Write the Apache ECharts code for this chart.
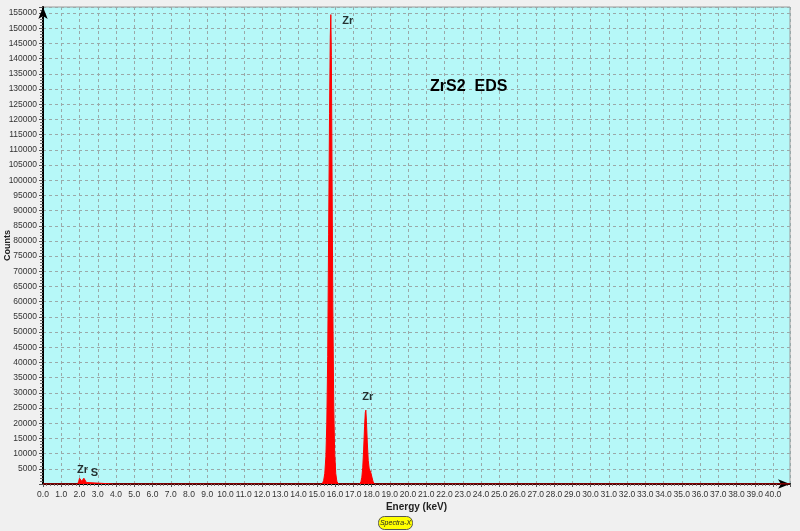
<!DOCTYPE html>
<html>
<head>
<meta charset="utf-8">
<script src="https://cdn.jsdelivr.net/npm/echarts@6/dist/echarts.min.js"></script>
<style>
html,body{margin:0;padding:0;background:#f0f0f0;}
#c{width:800px;height:531px;}
</style>
</head>
<body>
<div id="c"></div>
<script>
// Spectrum (keV, counts)
var energy = [0.0, 1.90, 1.96, 2.00, 2.04, 2.08, 2.12, 2.16, 2.20, 2.24, 2.28, 2.32, 2.38, 2.46,
  3.86, 3.90, 3.94,
  15.30, 15.38, 15.44, 15.50, 15.55, 15.60, 15.65, 15.70, 15.74, 15.77, 15.80, 15.84, 15.88, 15.93, 15.98, 16.04, 16.10, 16.18,
  17.35, 17.42, 17.47, 17.52, 17.57, 17.62, 17.66, 17.69, 17.72, 17.77, 17.82, 17.87, 17.92, 17.97, 18.02, 18.08, 18.15,
  40.93];
var counts = [0, 0, 900, 1900, 2100, 1500, 900, 800, 1300, 1900, 2000, 1400, 500, 0,
  0, 300, 0,
  0, 1200, 3500, 9000, 20000, 42000, 82000, 122000, 147000, 154500, 141000, 100000, 58000, 26000, 10500, 3500, 900, 0,
  0, 700, 2200, 5500, 11500, 19000, 23500, 24300, 21000, 13500, 7800, 5200, 4400, 3600, 2300, 900, 0,
  0];

// Peak annotations (keV, counts)
var labelNames = ['Zr', 'Zr', 'Zr', 'S'];
var labelX = [16.7, 17.8, 2.16, 2.82];
var labelY = [152500, 28500, 4700, 3600];

var xMin = 0, xMax = 40.93, xInterval = 1;
var yMin = 0, yMax = 157000, yInterval = 5000;

var spectrum = energy.map(function (e, i) { return [e, counts[i]]; });
var labels = labelNames.map(function (n, i) { return { name: n, value: [labelX[i], labelY[i]] }; });

var chart = echarts.init(document.getElementById('c'), null, { renderer: 'canvas' });
var tickFont = "'Liberation Sans Narrow', 'Liberation Sans', Arial, sans-serif";
chart.setOption({
  backgroundColor: '#f0f0f0',
  animation: false,
  title: {
    text: 'ZrS2  EDS',
    left: 425, top: 74,
    textStyle: { fontFamily: "'Liberation Sans', Arial, sans-serif", fontWeight: 'bold', fontSize: 16, color: '#000' }
  },
  grid: {
    left: 43, right: 10, top: 7, bottom: 47, containLabel: false, outerBoundsMode: 'none',
    show: true, backgroundColor: '#b6f8f8', borderColor: '#9a9a9a', borderWidth: 1
  },
  xAxis: {
    type: 'value', min: xMin, max: xMax, interval: xInterval,
    name: 'Energy (keV)', nameLocation: 'middle', nameGap: 18, nameMoveOverlap: false,
    nameTextStyle: { fontFamily: "'Liberation Sans', Arial, sans-serif", fontWeight: 'bold', fontSize: 10, color: '#222' },
    axisLine: { show: true, lineStyle: { color: '#000', width: 2 }, symbol: ['none', 'arrow'], symbolSize: [7, 12] },
    axisTick: { show: true, length: 3, lineStyle: { color: '#555' } },
    minorTick: { show: true, splitNumber: 5, length: 2, lineStyle: { color: '#777' } },
    axisLabel: {
      fontFamily: tickFont, fontSize: 8.5, color: '#333', margin: 6, showMaxLabel: false, hideOverlap: false,
      formatter: function (v) { return v.toFixed(1); }
    },
    splitLine: { show: true, lineStyle: { color: '#9aa9a9', type: [3, 3], width: 1 } }
  },
  yAxis: {
    type: 'value', min: yMin, max: yMax, interval: yInterval,
    name: 'Counts', nameLocation: 'middle', nameGap: 31, nameRotate: 90, nameMoveOverlap: false,
    nameTextStyle: { fontFamily: "'Liberation Sans', Arial, sans-serif", fontWeight: 'bold', fontSize: 9, color: '#222' },
    axisLine: { show: true, lineStyle: { color: '#000', width: 2 }, symbol: ['none', 'arrow'], symbolSize: [7, 12] },
    axisTick: { show: true, length: 4, lineStyle: { color: '#555' } },
    minorTick: { show: true, splitNumber: 5, length: 3, lineStyle: { color: '#666' } },
    axisLabel: {
      fontFamily: tickFont, fontSize: 8.5, color: '#333', margin: 6, showMinLabel: false, showMaxLabel: false,
      formatter: function (v) { return String(v); }
    },
    splitLine: { show: true, lineStyle: { color: '#9aa9a9', type: [3, 3], width: 1 } }
  },
  series: [
    {
      type: 'line', data: spectrum, showSymbol: false, smooth: false,
      lineStyle: { color: '#ff0000', width: 1 },
      areaStyle: { color: '#ff0000', opacity: 1 },
      z: 3
    },
    {
      type: 'scatter', data: labels, symbolSize: 0, silent: true,
      label: {
        show: true, position: 'inside', formatter: '{b}',
        fontFamily: "'Liberation Sans', Arial, sans-serif", fontWeight: 'bold', fontSize: 11, color: '#000'
      },
      z: 4
    }
  ],
  graphic: [
    {
      type: 'group', left: 378, top: 516,
      children: [
        { type: 'rect', shape: { x: 0, y: 0, width: 34, height: 13, r: 6 }, style: { fill: '#ffff00', stroke: '#555', lineWidth: 1 } },
        { type: 'text', style: { x: 17, y: 6.5, text: 'Spectra-X', align: 'center', verticalAlign: 'middle', fontSize: 7, fontStyle: 'italic', fontFamily: "'Liberation Sans', Arial, sans-serif", fill: '#222' } }
      ]
    }
  ]
});
</script>
</body>
</html>
